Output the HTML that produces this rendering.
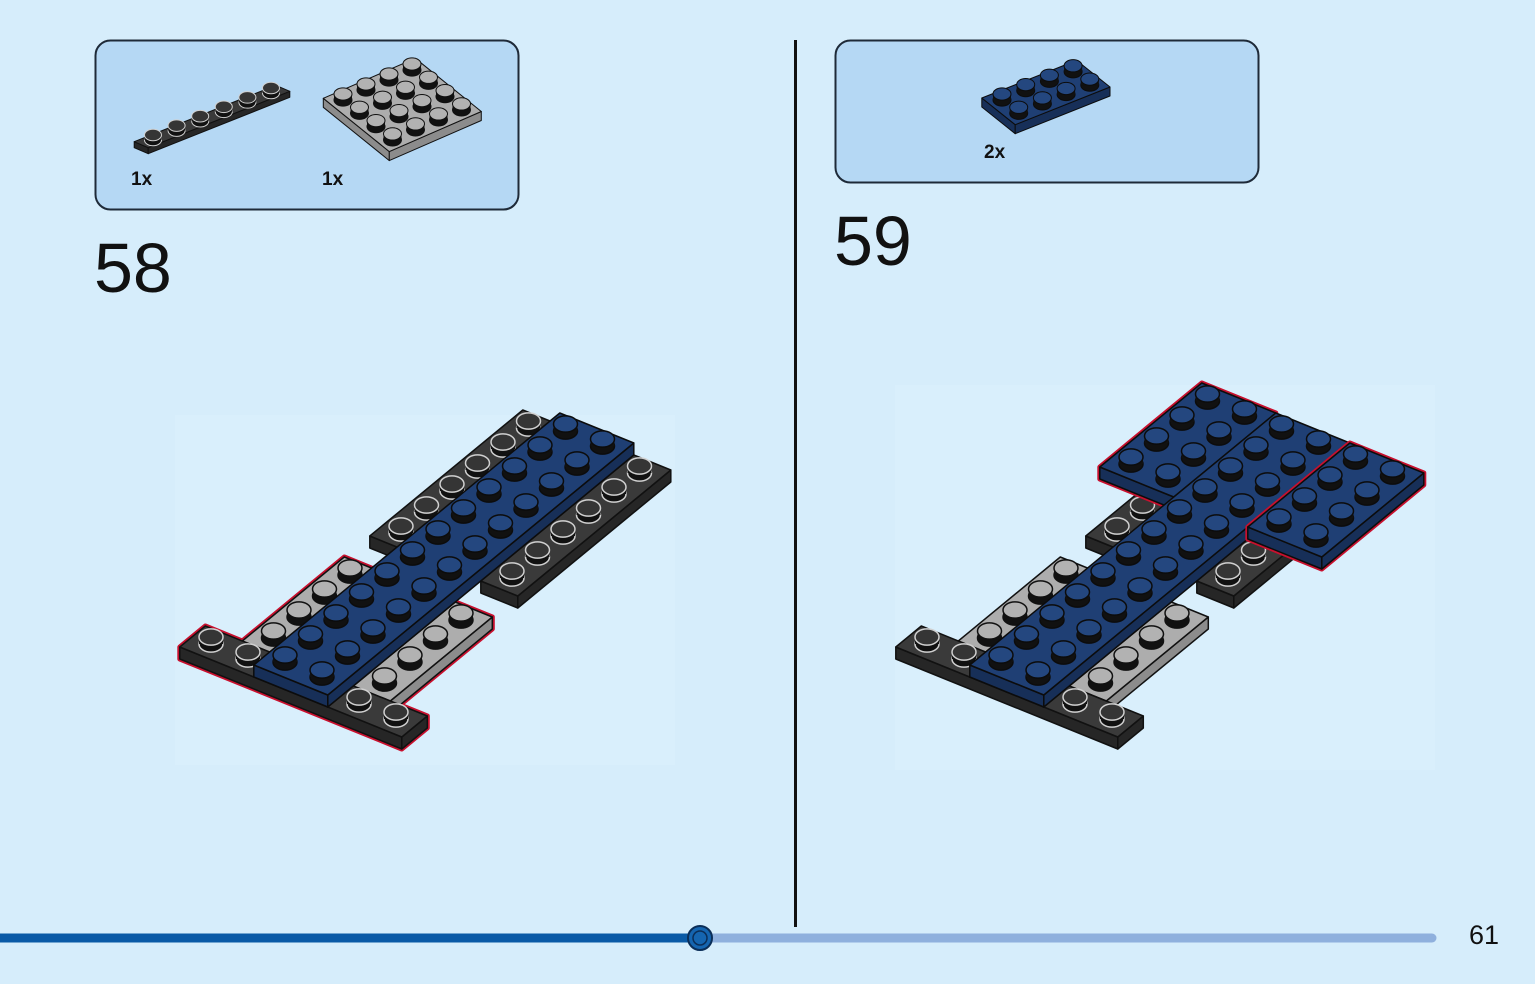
<!DOCTYPE html>
<html><head><meta charset="utf-8">
<style>
html,body{margin:0;padding:0;background:#d6edfb;}
#wrap{position:relative;width:1535px;height:984px;overflow:hidden;background:#d6edfb;font-family:"Liberation Sans",sans-serif;}
.t{position:absolute;color:#111;line-height:1;}
</style></head><body>
<div id="wrap">
<svg id="s" width="1535" height="984" viewBox="0 0 1535 984" style="position:absolute;left:0;top:0">
  <rect x="175" y="415" width="500" height="350" fill="#d9effc"/>
  <rect x="895" y="385" width="540" height="385" fill="#d9effc"/>
  <rect x="95.5" y="40.5" width="423" height="169" rx="15" fill="#b5d8f4" stroke="#1e2a38" stroke-width="2"/>
  <rect x="835.5" y="40.5" width="423" height="142" rx="15" fill="#b5d8f4" stroke="#1e2a38" stroke-width="2"/>
  <line x1="795.5" y1="40" x2="795.5" y2="927" stroke="#111" stroke-width="3"/>
  <line x1="0" y1="938" x2="700" y2="938" stroke="#0a5aa6" stroke-width="9"/>
  <line x1="700" y1="938" x2="1432" y2="938" stroke="#8fb0dd" stroke-width="9" stroke-linecap="round"/>
  <circle cx="700" cy="938" r="12" fill="#1565b0" stroke="#0b2e58" stroke-width="2"/>
  <circle cx="700" cy="938" r="7" fill="#1565b0" stroke="#0b2e58" stroke-width="1.5"/>
  <g id="g"></g>
</svg>
<div class="t" style="left:131px;top:170px;font-size:19px;font-weight:600;">1x</div>
<div class="t" style="left:322px;top:170px;font-size:19px;font-weight:600;">1x</div>
<div class="t" style="left:984px;top:143px;font-size:19px;font-weight:600;">2x</div>
<div class="t" style="left:94px;top:233px;font-size:70px;">58</div>
<div class="t" style="left:834px;top:206px;font-size:70px;">59</div>
<div class="t" style="left:1469px;top:922px;font-size:27px;">61</div>
</div>
<script>
var G=document.getElementById('g');var NS='http://www.w3.org/2000/svg';
function el(n,a){var e=document.createElementNS(NS,n);for(var k in a)e.setAttribute(k,a[k]);G.appendChild(e);return e;}
function P(a){return a.map(function(p){return p[0].toFixed(1)+','+p[1].toFixed(1)}).join(' ');}
var COL={
 blue:{top:'#1f3f74',side:'#172f58',stud:'#24477f',sl:'#0c0c0c',line:'#0c0c0c'},
 black:{top:'#3a3a3a',side:'#262626',stud:'#353535',sl:'#d0d0d0',line:'#111'},
 grey:{top:'#adadad',side:'#8c8c8c',stud:'#b2b2b2',sl:'#111',line:'#111'}
};
function geom(sx,sy,nu,nv,u,v,h){
 var cx=sx-u[0]/2-v[0]/2, cy=sy-u[1]/2-v[1]/2;
 var A=[cx,cy],B=[cx+nu*u[0],cy+nu*u[1]],C=[B[0]+nv*v[0],B[1]+nv*v[1]],D=[cx+nv*v[0],cy+nv*v[1]];
 return {A:A,B:B,C:C,D:D};
}
function hp(p,h){return [p[0],p[1]+h];}
function outline(sx,sy,nu,nv,u,v,h){
 var g=geom(sx,sy,nu,nv,u,v,h);
 el('polygon',{points:P([g.A,g.B,g.C,hp(g.C,h),hp(g.D,h),hp(g.A,h)]),fill:'#c8102e',stroke:'#c8102e','stroke-width':5,'stroke-linejoin':'round'});
}
function plate(sx,sy,nu,nv,u,v,h,c,r,sh){
 var k=COL[c];var g=geom(sx,sy,nu,nv,u,v,h);
 var sw=r>9?1.5:1;
 el('polygon',{points:P([g.A,g.D,hp(g.D,h),hp(g.A,h)]),fill:k.side,stroke:k.line,'stroke-width':sw,'stroke-linejoin':'round'});
 el('polygon',{points:P([g.D,g.C,hp(g.C,h),hp(g.D,h)]),fill:k.side,stroke:k.line,'stroke-width':sw,'stroke-linejoin':'round'});
 el('polygon',{points:P([g.A,g.B,g.C,g.D]),fill:k.top,stroke:k.line,'stroke-width':sw,'stroke-linejoin':'round'});
 for(var i=nu-1;i>=0;i--)for(var j=0;j<nv;j++){
  var x=sx+i*u[0]+j*v[0],y=sy+i*u[1]+j*v[1];
  var rx=r,ry=r*0.68;
  el('ellipse',{cx:x,cy:y,rx:rx,ry:ry,fill:'#111',stroke:k.sl,'stroke-width':sw});
  el('rect',{x:x-rx,y:y-sh,width:2*rx,height:sh,fill:'#111'});
  el('ellipse',{cx:x,cy:y-sh,rx:rx,ry:ry,fill:k.stud,stroke:k.sl,'stroke-width':sw});
 }
}
var U=[25.5,-21],V=[37,15],H=12;
function model(ox,oy,extra){
 function S(i,j,L){return [ox+U[0]*i+V[0]*j, oy+U[1]*i+V[1]*j+(1-L)*H];}
 function pl(i,j,L,nu,nv,c){var s=S(i,j,L);plate(s[0],s[1],nu,nv,U,V,H,c,12,7);}
 function ol(i,j,L,nu,nv){var s=S(i,j,L);outline(s[0],s[1],nu,nv,U,V,H);}
 if(!extra){ol(1,-1,0,4,1);ol(1,2,0,4,1);ol(0,-2,0,1,6);}
 pl(6,-1,0,6,1,'black');
 pl(6,2,0,6,1,'black');
 pl(1,-1,0,4,1,'grey');
 pl(1,2,0,4,1,'grey');
 pl(0,-2,0,1,6,'black');
 if(extra){ol(8,-2,1,4,2);pl(8,-2,1,4,2,'blue');}
 pl(0,0,1,12,2,'blue');
 if(extra){ol(8,2,1,4,2);pl(8,2,1,4,2,'blue');}
}
model(285,662,false);
model(1001,662,true);
plate(153,140,6,1,[23.6,-9.4],[14,6],6,'black',8.5,5);
plate(343,100,4,4,[23,-10],[16.5,13.3],9,'grey',9,6);
plate(1002,100,4,2,[23.7,-9.4],[16.7,13.3],9,'blue',9,6);
</script>
</body></html>
